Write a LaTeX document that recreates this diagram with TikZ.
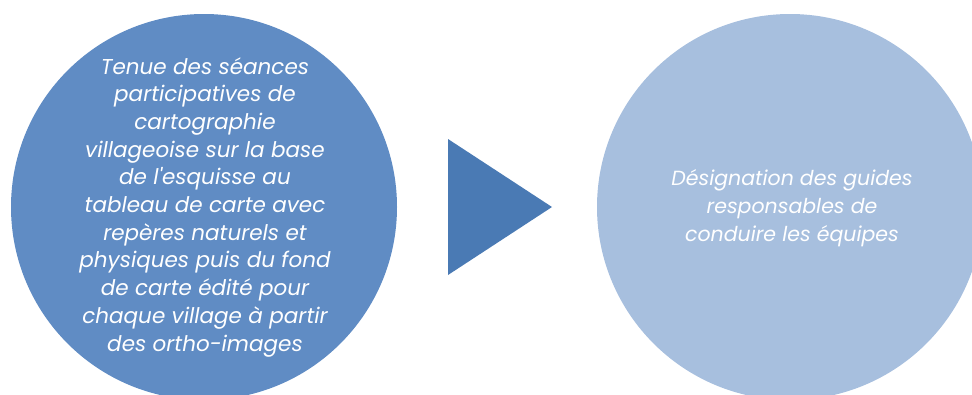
\documentclass[tikz,border=0pt]{standalone}
\usepackage{fontspec}
\setmainfont{Poppins}
\definecolor{leftblue}{HTML}{608CC4}
\definecolor{arrowblue}{HTML}{4A7AB4}
\definecolor{rightblue}{HTML}{A7BFDE}
\begin{document}
\begin{tikzpicture}[x=1pt,y=-1pt,
  bubble/.style={circle, minimum size=386pt, inner sep=0pt, draw=none},
  btext/.style={text=white, align=center, font=\fontsize{21.5}{27.7}\selectfont\itshape}]
\useasboundingbox (0,0) rectangle (972,394);
\clip (0,0) rectangle (972,394);
\node[bubble, fill=leftblue] (c1) at (204,207) {};
\node[bubble, fill=rightblue] (c2) at (790,207) {};
\fill[arrowblue] (448,139) -- (552,207) -- (448,275) -- cycle;
\node[btext] (t1) at (205,207) {Tenue des séances\\participatives de\\cartographie\\villageoise sur la base\\de l\textquotesingle esquisse au\\tableau de carte avec\\repères naturels et\\physiques puis du fond\\de carte édité pour\\chaque village à partir\\des ortho-images};
\node[btext, font=\fontsize{20.5}{27.7}\selectfont\itshape] (t2) at (792,208) {Désignation des guides\\responsables de\\conduire les équipes};
\end{tikzpicture}
\end{document}
